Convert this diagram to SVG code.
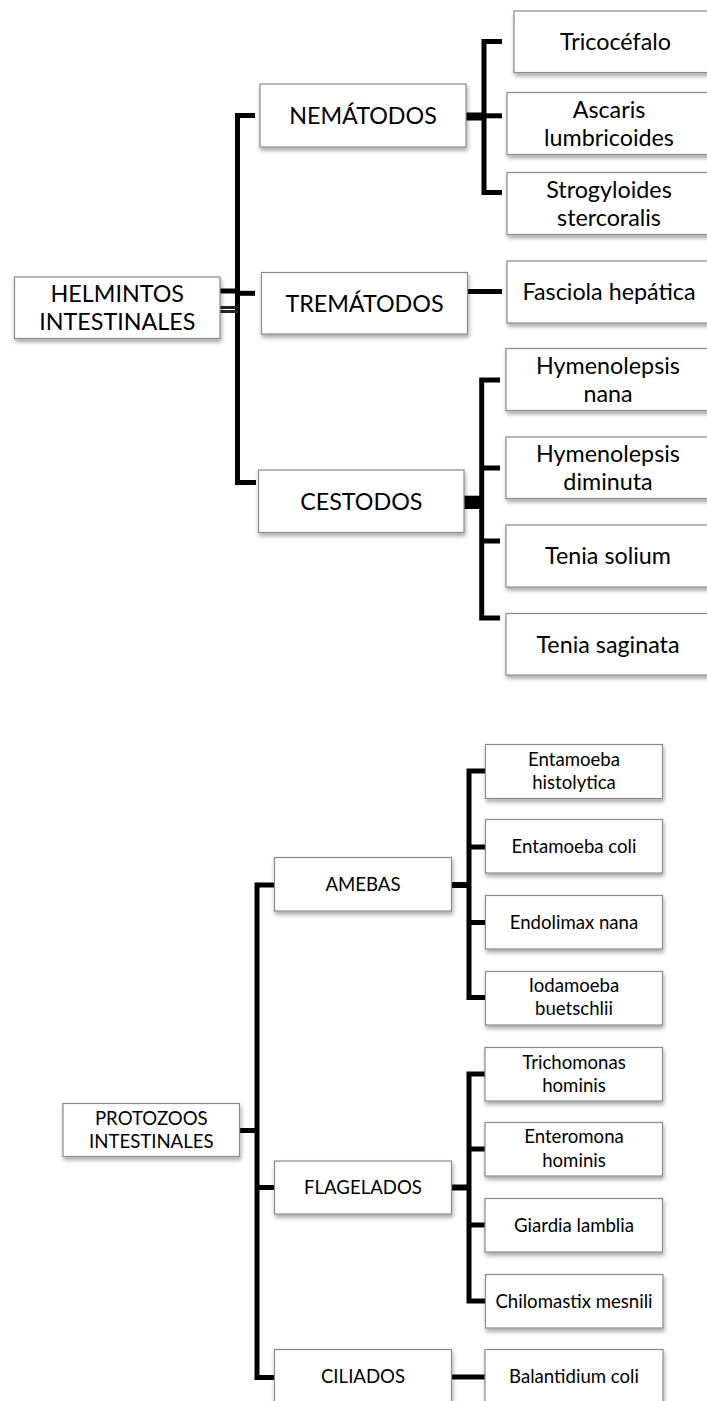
<svg xmlns="http://www.w3.org/2000/svg" width="707" height="1401" viewBox="0 0 707 1401">
<defs>
<filter id="sh" x="-10%" y="-20%" width="130%" height="160%">
<feDropShadow dx="1" dy="3" stdDeviation="2" flood-color="#000" flood-opacity="0.35"/>
</filter>
<style>
.box{fill:#fff;stroke:#8a8a8a;stroke-width:1.2;filter:url(#sh)}
.t{font-family:"Lato","Liberation Sans",sans-serif;fill:#000;text-anchor:middle}
.big{font-size:23.3px}
.sm{font-size:18.6px}
.c{fill:none;stroke:#000;stroke-width:5;stroke-linejoin:miter}
.c6{fill:none;stroke:#000;stroke-width:6}
.dbl{fill:none;stroke:#222;stroke-width:3}
</style>
</defs>
<rect width="707" height="1401" fill="#fff"/>
<g id="connectors">
<path class="c" d="M255,115.5 H237.5 V482.5 H256"/>
<path class="c" d="M237.5,293.3 H255"/>
<path class="c" d="M220,291 H237.5"/>
<path class="dbl" d="M220,307.5 H238"/>
<path class="dbl" d="M220,311.5 H238"/>
<rect x="466" y="112.5" width="18" height="8" fill="#000"/>
<path class="c" d="M502,41.5 H484 V192.5 H502"/>
<path class="c" d="M484,115.8 H502"/>
<path class="c" d="M468,291.5 H502"/>
<rect x="464" y="495.7" width="17.7" height="13.3" fill="#000"/>
<path class="c" d="M500,380 H481.7 V618 H500"/>
<path class="c" d="M481.7,468 H500"/>
<path class="c" d="M481.7,541 H500"/>
<path class="c" d="M274.5,885 H257 V1377.5 H274.5"/>
<path class="c" d="M239,1130.5 H257"/>
<path class="c" d="M257,1187.5 H274.5"/>
<path class="c6" d="M451.7,885 H469"/>
<path class="c" d="M485.5,771 H469 V997.5 H485.5"/>
<path class="c" d="M469,847 H485.5"/>
<path class="c" d="M469,922.5 H485.5"/>
<path class="c6" d="M451.7,1187.5 H469"/>
<path class="c" d="M485,1074 H469 V1301 H485.5"/>
<path class="c" d="M469,1149 H485"/>
<path class="c" d="M469,1225 H485"/>
<path class="c" d="M451.7,1377 H485"/>
</g>
<g id="helmintos"><rect class="box" x="14.5" y="277" width="205.5" height="61.5"/><text class="t big" x="117.3" y="301.5">HELMINTOS</text><text class="t big" x="117.3" y="329.5">INTESTINALES</text></g>
<g id="nematodos"><rect class="box" x="260" y="84" width="206" height="63"/><text class="t big" x="363" y="123.5">NEMÁTODOS</text></g>
<g id="trematodos"><rect class="box" x="261.5" y="272.5" width="206" height="61.5"/><text class="t big" x="364.5" y="311.5">TREMÁTODOS</text></g>
<g id="cestodos"><rect class="box" x="258.5" y="470" width="205.5" height="62.5"/><text class="t big" x="361.3" y="509.5">CESTODOS</text></g>
<g id="tricocefalo"><rect class="box" x="514" y="11" width="203" height="61.5"/><text class="t big" x="615.5" y="50">Tricocéfalo</text></g>
<g id="ascaris"><rect class="box" x="507" y="92.5" width="204" height="62"/><text class="t big" x="609" y="117.5">Ascaris</text><text class="t big" x="609" y="146">lumbricoides</text></g>
<g id="strogyloides"><rect class="box" x="507" y="172.5" width="204" height="62"/><text class="t big" x="609" y="197.5">Strogyloides</text><text class="t big" x="609" y="226">stercoralis</text></g>
<g id="fasciola"><rect class="box" x="507" y="261" width="204" height="62"/><text class="t big" x="609" y="300">Fasciola hepática</text></g>
<g id="hnana"><rect class="box" x="506" y="348.5" width="204" height="62"/><text class="t big" x="608" y="373.5">Hymenolepsis</text><text class="t big" x="608" y="402">nana</text></g>
<g id="hdiminuta"><rect class="box" x="506" y="437" width="204" height="61.5"/><text class="t big" x="608" y="461.8">Hymenolepsis</text><text class="t big" x="608" y="490">diminuta</text></g>
<g id="tsolium"><rect class="box" x="506" y="525" width="204" height="62"/><text class="t big" x="608" y="564.3">Tenia solium</text></g>
<g id="tsaginata"><rect class="box" x="506" y="613.5" width="204" height="61.5"/><text class="t big" x="608" y="652.5">Tenia saginata</text></g>
<g id="protozoos"><rect class="box" x="63" y="1103.5" width="176.5" height="53"/><text class="t sm" x="151.3" y="1124.8">PROTOZOOS</text><text class="t sm" x="151.3" y="1148">INTESTINALES</text></g>
<g id="amebas"><rect class="box" x="274.5" y="857.5" width="177" height="53.5"/><text class="t sm" x="363" y="891">AMEBAS</text></g>
<g id="flagelados"><rect class="box" x="274.5" y="1161" width="177" height="53"/><text class="t sm" x="363" y="1194.3">FLAGELADOS</text></g>
<g id="ciliados"><rect class="box" x="274.5" y="1349.5" width="177" height="54"/><text class="t sm" x="363" y="1383">CILIADOS</text></g>
<g id="ehistolytica"><rect class="box" x="485.5" y="744.5" width="177" height="54"/><text class="t sm" x="574" y="766">Entamoeba</text><text class="t sm" x="574" y="789">histolytica</text></g>
<g id="ecoli"><rect class="box" x="485.5" y="819.5" width="177" height="53.5"/><text class="t sm" x="574" y="853">Entamoeba coli</text></g>
<g id="endolimax"><rect class="box" x="485.5" y="895.5" width="177" height="53.5"/><text class="t sm" x="574" y="929">Endolimax nana</text></g>
<g id="iodamoeba"><rect class="box" x="485.5" y="971.5" width="177" height="53.5"/><text class="t sm" x="574" y="992">Iodamoeba</text><text class="t sm" x="574" y="1015">buetschlii</text></g>
<g id="trichomonas"><rect class="box" x="485" y="1047.5" width="177.5" height="53.5"/><text class="t sm" x="574" y="1068.5">Trichomonas</text><text class="t sm" x="574" y="1091.7">hominis</text></g>
<g id="enteromona"><rect class="box" x="485" y="1122.5" width="177.5" height="53.5"/><text class="t sm" x="574" y="1143.3">Enteromona</text><text class="t sm" x="574" y="1166.7">hominis</text></g>
<g id="giardia"><rect class="box" x="485" y="1198.5" width="177.5" height="53.5"/><text class="t sm" x="574" y="1231.5">Giardia lamblia</text></g>
<g id="chilomastix"><rect class="box" x="485.5" y="1274.5" width="177.5" height="53.5"/><text class="t sm" x="574" y="1307.5">Chilomastix mesnili</text></g>
<g id="balantidium"><rect class="box" x="485" y="1349.5" width="178" height="54"/><text class="t sm" x="574" y="1383">Balantidium coli</text></g>
</svg>
